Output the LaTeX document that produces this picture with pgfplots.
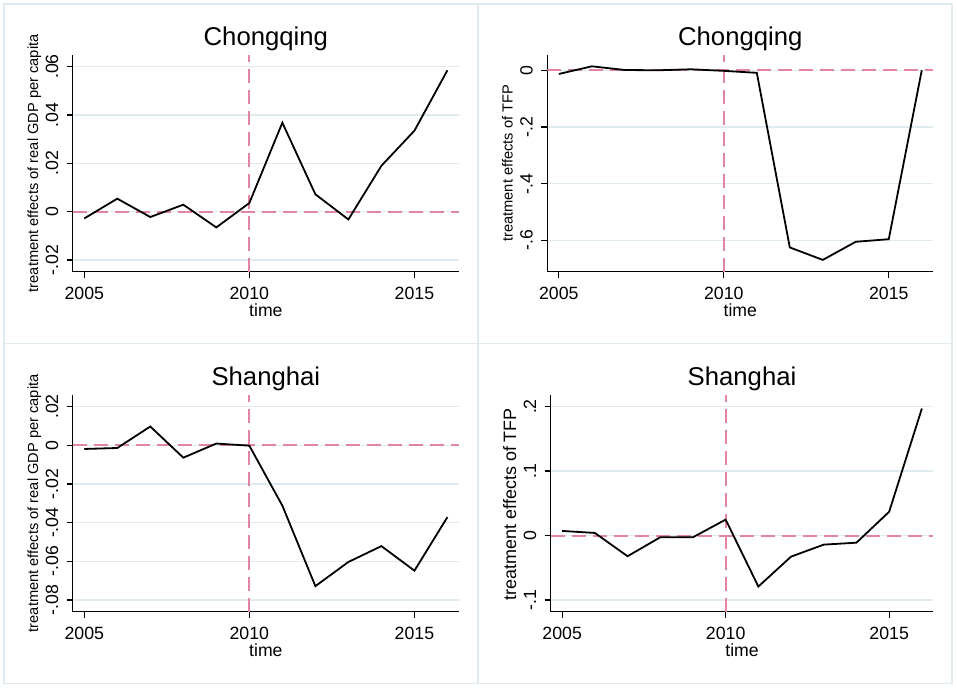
\documentclass[border=0pt]{standalone}
\usepackage{pgfplots}
\pgfplotsset{compat=1.18}
\usepackage{fontspec}
\setmainfont{Liberation Sans}
\definecolor{gridc}{RGB}{224,235,239}
\definecolor{framec}{RGB}{224,235,239}
\definecolor{refc}{RGB}{226,132,164}

\pgfplotsset{
  refline/.style={refc, line width=2bp, dash pattern=on 14bp off 7bp},
  dataline/.style={black, line width=1.8bp},
  stata/.style={
  scale only axis, anchor=south west,
  height=216.7bp,
  xmin=2004.65, xmax=2016.35,
  scaled y ticks=false, scaled x ticks=false,
  axis x line=bottom, axis y line=left,
  axis line style={-, line width=1.2bp, black},
  tick align=outside, major tick length=6bp,
  tick style={black, line width=1.2bp},
  xtick={2005,2010,2015}, xticklabels={2005,2010,2015},
  ymajorgrids, grid style={gridc, line width=1.3bp},
  every tick label/.append style={font=\fontsize{17.8}{20}\selectfont},
  every x tick label/.style={anchor=north, inner sep=0pt, yshift=-9.3bp},
  every y tick label/.style={xshift=-8.7bp, rotate=90, anchor=base, inner sep=0pt},
  every axis title/.style={at={(0.5,1)}, anchor=base, yshift=9bp, font=\fontsize{25.8}{30}\selectfont},
  xlabel=time,
  every axis x label/.style={at={(0.5,0)}, anchor=base, yshift=-45.3bp, font=\fontsize{17.7}{20}\selectfont},
  every axis y label/.style={at={(0,0.5)}, xshift=-34.6bp, rotate=90, anchor=base, font=\fontsize{14.7}{17}\selectfont},
}}

\begin{document}
\begin{tikzpicture}[x=1bp,y=1bp]
\useasboundingbox (0,0) rectangle (957,689);
\fill[white] (0,0) rectangle (957,689);
\draw[framec, line width=1.5bp] (4,685) rectangle (478,345.3);
\draw[framec, line width=1.5bp] (478,685) rectangle (952,345.3);
\draw[framec, line width=1.5bp] (4,345.3) rectangle (478,5.7);
\draw[framec, line width=1.5bp] (478,345.3) rectangle (952,5.7);

% Panel 1
\begin{axis}[stata, at={(72.7bp,417.3bp)}, width=386.3bp,
  title={Chongqing},
  ylabel={treatment effects of real GDP per capita},
  ymin=-0.0248, ymax=0.0648,
  ytick={-0.02,0,0.02,0.04,0.06}, yticklabels={-.02,0,.02,.04,.06}]
\addplot[refline] coordinates {(2004.65,0) (2016.35,0)};
\addplot[refline] coordinates {(2010,-0.0248) (2010,0.0648)};
\addplot[dataline] coordinates {
(2005,-0.0028) (2006,0.0054) (2007,-0.0022) (2008,0.0029) (2009,-0.0065)
(2010,0.0036) (2011,0.0368) (2012,0.0072) (2013,-0.0032) (2014,0.0190)
(2015,0.0335) (2016,0.0585)};
\end{axis}

% Panel 2
\begin{axis}[stata, at={(547.3bp,417.3bp)}, width=386bp,
  title={Chongqing},
  ylabel={treatment effects of TFP},
  ymin=-0.7106, ymax=0.054,
  ytick={-0.6,-0.4,-0.2,0}, yticklabels={-.6,-.4,-.2,0}]
\addplot[refline] coordinates {(2004.65,0) (2016.35,0)};
\addplot[refline] coordinates {(2010,-0.7106) (2010,0.054)};
\addplot[dataline] coordinates {
(2005,-0.013) (2006,0.014) (2007,0.001) (2008,0.000) (2009,0.0035)
(2010,-0.002) (2011,-0.009) (2012,-0.625) (2013,-0.669) (2014,-0.605)
(2015,-0.596) (2016,0.000)};
\end{axis}

% Panel 3
\begin{axis}[stata, at={(72.7bp,77.3bp)}, width=386.3bp,
  title={Shanghai},
  ylabel={treatment effects of real GDP per capita},
  ymin=-0.086, ymax=0.026,
  ytick={-0.08,-0.06,-0.04,-0.02,0,0.02}, yticklabels={-.08,-.06,-.04,-.02,0,.02}]
\addplot[refline] coordinates {(2004.65,0) (2016.35,0)};
\addplot[refline] coordinates {(2010,-0.086) (2010,0.026)};
\addplot[dataline] coordinates {
(2005,-0.0019) (2006,-0.0014) (2007,0.0097) (2008,-0.0064) (2009,0.0009)
(2010,-0.0002) (2011,-0.0312) (2012,-0.0728) (2013,-0.0603) (2014,-0.0521)
(2015,-0.0648) (2016,-0.0371)};
\end{axis}

% Panel 4
\begin{axis}[stata, at={(550.7bp,77.3bp)}, width=382.6bp,
  title={Shanghai},
  ylabel={treatment effects of TFP},
  every axis y label/.append style={font=\fontsize{18}{20}\selectfont, xshift=-0.8bp},
  ymin=-0.118, ymax=0.218,
  ytick={-0.1,0,0.1,0.2}, yticklabels={-.1,0,.1,.2}]
\addplot[refline] coordinates {(2004.65,0) (2016.35,0)};
\addplot[refline] coordinates {(2010,-0.118) (2010,0.218)};
\addplot[dataline] coordinates {
(2005,0.0072) (2006,0.0041) (2007,-0.032) (2008,-0.0026) (2009,-0.0026)
(2010,0.0248) (2011,-0.079) (2012,-0.0326) (2013,-0.014) (2014,-0.011)
(2015,0.037) (2016,0.197)};
\end{axis}
\end{tikzpicture}
\end{document}
